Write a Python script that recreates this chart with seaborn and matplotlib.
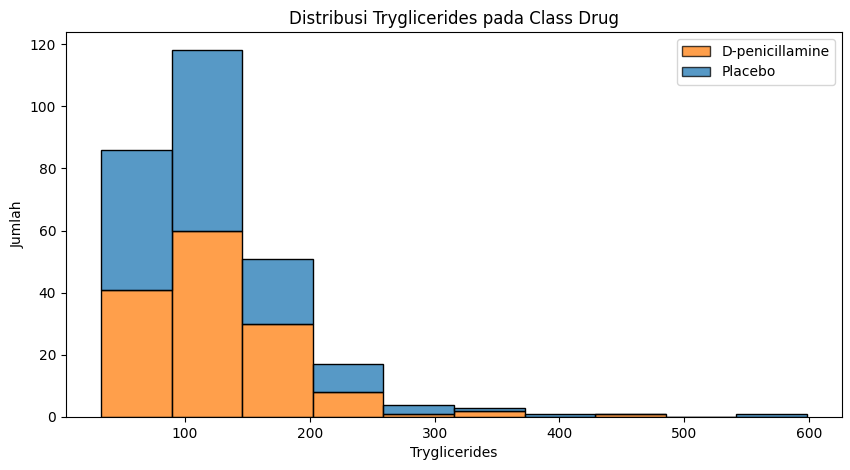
import numpy as np
import pandas as pd
import matplotlib
matplotlib.use("Agg")
import matplotlib.pyplot as plt
from matplotlib.patches import Patch
import seaborn as sns

# bin midpoints of the tryglicerides histogram (range 33..598, 10 bins)
bin_low = 33
bin_high = 598
n_bins = 10
bin_mid = [61.25, 117.75, 174.25, 230.75, 287.25, 343.75, 400.25, 456.75, 513.25, 569.75]
count_placebo = [45, 58, 21, 9, 3, 1, 1, 0, 0, 1]
count_dpen = [41, 60, 30, 8, 1, 2, 0, 1, 0, 0]
drugs = ["Placebo", "D-penicillamine"]

df = pd.DataFrame({
    "Tryglicerides": bin_mid * 2,
    "Jumlah": count_placebo + count_dpen,
    "Drug": [drugs[0]] * len(bin_mid) + [drugs[1]] * len(bin_mid),
})

fig = plt.figure(figsize=(8.5, 4.7), dpi=100)
ax = fig.add_axes([0.0776, 0.1128, 0.913, 0.819])
sns.histplot(data=df, x="Tryglicerides", weights="Jumlah", hue="Drug",
             hue_order=drugs, multiple="stack", bins=n_bins,
             binrange=(bin_low, bin_high), ax=ax, legend=False)

pal = sns.color_palette()
handles = [Patch(facecolor=pal[1], edgecolor="black", alpha=0.75),
           Patch(facecolor=pal[0], edgecolor="black", alpha=0.75)]
ax.legend(handles=handles, labels=["D-penicillamine", "Placebo"], loc="upper right")
ax.set_title("Distribusi Tryglicerides pada Class Drug")
ax.set_xlabel("Tryglicerides")
ax.set_ylabel("Jumlah")

fig.savefig("out.png", dpi=100)
